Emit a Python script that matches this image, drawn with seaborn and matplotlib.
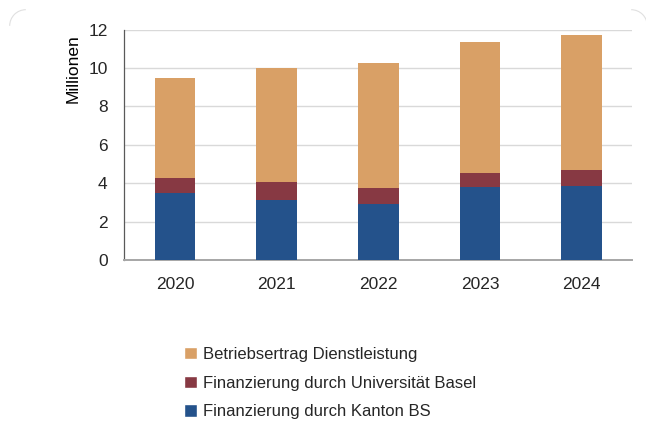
import matplotlib
matplotlib.use("Agg")
import matplotlib.pyplot as plt
import seaborn as sns
import pandas as pd
import numpy as np
from matplotlib.patches import Patch, Arc

years = ["2020", "2021", "2022", "2023", "2024"]
kanton = [3.49, 3.14, 2.94, 3.82, 3.86]
uni = [0.78, 0.91, 0.79, 0.73, 0.85]
betrieb = [5.23, 5.95, 6.54, 6.83, 7.00]
series_labels = ["Finanzierung durch Kanton BS",
                 "Finanzierung durch Universität Basel",
                 "Betriebsertrag Dienstleistung"]
colors = ["#24528B", "#873943", "#D9A066"]

sns.set_theme(style="white")
plt.rcParams['font.family'] = ['Liberation Sans', 'DejaVu Sans']

fig = plt.figure(figsize=(6.46, 4.33), dpi=100)
ax = fig.add_axes([0.1925, 0.3995, 0.7865, 0.532])

df = pd.DataFrame({"year": years, "kanton": kanton, "uni": uni, "betrieb": betrieb})
df["c1"] = df["kanton"]
df["c2"] = df["kanton"] + df["uni"]
df["c3"] = df["c2"] + df["betrieb"]

for col, color in zip(["c3", "c2", "c1"], colors[::-1]):
    sns.barplot(data=df, x="year", y=col, color=color, width=0.4,
                saturation=1, linewidth=0, ax=ax, zorder=3)

ax.set_ylim(0, 12)
ax.set_xlim(-0.5, 4.5)
ax.set_yticks(range(0, 13, 2))
ax.yaxis.grid(True, color="#D9D9D9", linewidth=1.0, zorder=0)
ax.set_axisbelow(True)
for s in ["top", "right"]:
    ax.spines[s].set_visible(False)
ax.spines["left"].set_color("#595959")
ax.spines["left"].set_linewidth(0.9)
ax.spines["bottom"].set_color("#A6A6A6")
ax.spines["bottom"].set_linewidth(1.4)
ax.tick_params(axis="both", length=0, labelsize=12.5, colors="#262626", pad=12)
ax.set_xlabel("")
ax.set_ylabel("Millionen", fontsize=12.5, color="#000000")
ax.yaxis.set_label_coords(-0.086, 0.83)

handles = [Patch(facecolor=colors[2]), Patch(facecolor=colors[1]), Patch(facecolor=colors[0])]
labels = [series_labels[2], series_labels[1], series_labels[0]]
leg = fig.legend(handles, labels, loc="upper left",
                 bbox_to_anchor=(184 / 646, 1 - 347 / 433), frameon=False,
                 prop={"size": 12},
                 handlelength=0.75, handleheight=0.75, handletextpad=0.4,
                 labelspacing=0.82, borderaxespad=0, borderpad=0)
for t in leg.get_texts():
    t.set_color("#262626")

# faint rounded frame corners
fig.add_artist(Arc((0.04, 1 - 0.04 * 646 / 433), 0.05, 0.05 * 646 / 433, theta1=90, theta2=180,
                   transform=fig.transFigure, color="#E0E0E0", lw=0.8))
fig.add_artist(Arc((0.977, 1 - 0.04 * 646 / 433), 0.05, 0.05 * 646 / 433, theta1=0, theta2=90,
                   transform=fig.transFigure, color="#E0E0E0", lw=0.8))

fig.savefig("out.png", dpi=100)
